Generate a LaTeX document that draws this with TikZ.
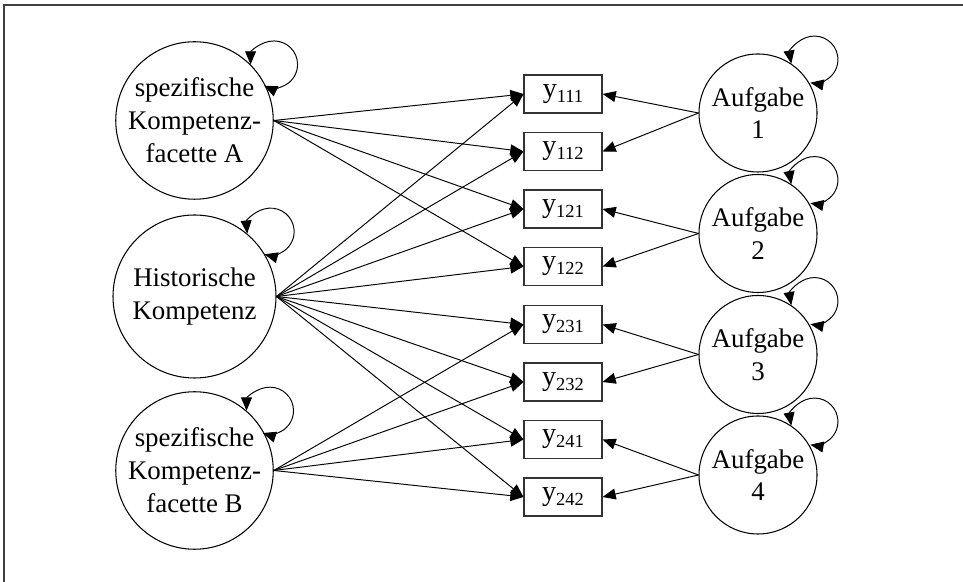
\documentclass[tikz,border=0pt]{standalone}
\usepackage{fontspec}
\setmainfont{Liberation Serif}
\usepackage{tikz}
\usetikzlibrary{arrows.meta, positioning, calc}
\tikzstyle{latent} = [circle, draw=black, line width=0.6pt, inner sep=0pt, minimum size=3.1cm, align=center, font=\fontsize{15.3}{18.7}\selectfont]
\tikzstyle{task} = [latent, minimum size=2.36cm]
\tikzstyle{obs} = [rectangle, draw=black!80, line width=0.6pt, minimum width=1.56cm, minimum height=0.76cm, inner sep=0pt, font=\fontsize{16}{18}\selectfont]
\tikzstyle{arrow} = [line width=0.55pt, -{Triangle[length=7.5pt, width=6.2pt]}]
\tikzstyle{varloop} = [line width=0.55pt, {Triangle[length=7.5pt, width=6.2pt]}-{Triangle[length=7.5pt, width=6.2pt]}]
\tikzstyle{frame} = [line width=1.1pt, draw=black!75]
\newcommand{\yvar}[1]{y\raisebox{-2.8pt}{\fontsize{10.5}{12}\selectfont #1}}

\begin{document}
\begin{tikzpicture}
\useasboundingbox (0,0) rectangle (19.26,11.64);
\draw[frame] (0.08,0) -- (0.08,11.54) -- (19.26,11.54);

% Competences
\node[latent] (facA) at (3.89,9.23) {spezifische\\Kompetenz-\\facette A};
\node[latent, minimum size=3.26cm] (hist) at (3.89,5.71) {Historische\\Kompetenz};
\node[latent] (facB) at (3.89,2.23) {spezifische\\Kompetenz-\\facette B};

% Items
\node[obs] (y111) at (11.26,9.76) {\yvar{111}};
\node[obs] (y112) at (11.26,8.61) {\yvar{112}};
\node[obs] (y121) at (11.26,7.46) {\yvar{121}};
\node[obs] (y122) at (11.26,6.31) {\yvar{122}};
\node[obs] (y231) at (11.26,5.15) {\yvar{231}};
\node[obs] (y232) at (11.26,4.00) {\yvar{232}};
\node[obs] (y241) at (11.26,2.85) {\yvar{241}};
\node[obs] (y242) at (11.26,1.70) {\yvar{242}};

% Tasks
\node[task] (auf1) at (15.16,9.38) {Aufgabe\\1};
\node[task] (auf2) at (15.16,6.97) {Aufgabe\\2};
\node[task] (auf3) at (15.16,4.55) {Aufgabe\\3};
\node[task] (auf4) at (15.16,2.14) {Aufgabe\\4};

% Variances
\draw[varloop] (facA.45) arc[start angle=180, end angle=-115, radius=0.47];
\draw[varloop] (hist.50) arc[start angle=185, end angle=-105, radius=0.47];
\draw[varloop] (facB.49) arc[start angle=180, end angle=-108, radius=0.47];
\draw[varloop] (auf1.56) arc[start angle=190, end angle=-100, radius=0.47];
\draw[varloop] (auf2.56) arc[start angle=190, end angle=-100, radius=0.47];
\draw[varloop] (auf3.56) arc[start angle=190, end angle=-100, radius=0.47];
\draw[varloop] (auf4.56) arc[start angle=190, end angle=-100, radius=0.47];

% Loadings facette A
\draw[arrow] (facA.east) -- (y111.west);
\draw[arrow] (facA.east) -- (y112.west);
\draw[arrow] (facA.east) -- (y121.west);
\draw[arrow] (facA.east) -- (y122.west);

% Loadings Historische Kompetenz
\draw[arrow] (hist.east) -- (y111.west);
\draw[arrow] (hist.east) -- (y112.west);
\draw[arrow] (hist.east) -- (y121.west);
\draw[arrow] (hist.east) -- (y122.west);
\draw[arrow] (hist.east) -- (y231.west);
\draw[arrow] (hist.east) -- (y232.west);
\draw[arrow] (hist.east) -- (y241.west);
\draw[arrow] (hist.east) -- (y242.west);

% Loadings facette B
\draw[arrow] (facB.east) -- (y231.west);
\draw[arrow] (facB.east) -- (y232.west);
\draw[arrow] (facB.east) -- (y241.west);
\draw[arrow] (facB.east) -- (y242.west);

% Task effects
\draw[arrow] (auf1.west) -- (y111.east);
\draw[arrow] (auf1.west) -- (y112.east);
\draw[arrow] (auf2.west) -- (y121.east);
\draw[arrow] (auf2.west) -- (y122.east);
\draw[arrow] (auf3.west) -- (y231.east);
\draw[arrow] (auf3.west) -- (y232.east);
\draw[arrow] (auf4.west) -- (y241.east);
\draw[arrow] (auf4.west) -- (y242.east);
\end{tikzpicture}
\end{document}
